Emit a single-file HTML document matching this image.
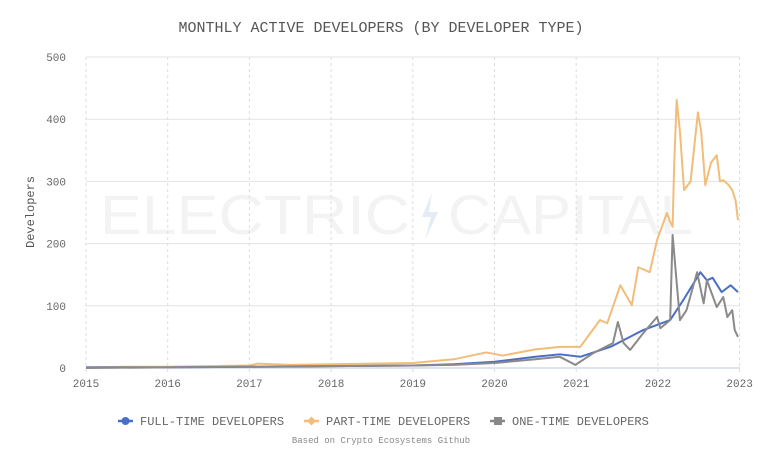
<!DOCTYPE html>
<html><head><meta charset="utf-8"><style>
body{margin:0;background:#fff;width:762px;height:455px;overflow:hidden;font-family:"Liberation Mono","DejaVu Sans Mono",monospace}
</style></head><body>
<svg id="chart" width="762" height="455" xmlns="http://www.w3.org/2000/svg">
<text x="381" y="32" text-anchor="middle" font-size="15" fill="#555" font-family="Liberation Mono, monospace">MONTHLY ACTIVE DEVELOPERS (BY DEVELOPER TYPE)</text>
<g fill="#f3f3f3" font-family="Liberation Sans, sans-serif" font-size="56">
<text x="100" y="234" textLength="310" lengthAdjust="spacingAndGlyphs">ELECTRIC</text>
<path d="M432 193L422 217L431 217L425 240L438 212L429 212Z" fill="#e3ecf6"/>
<text x="448" y="234" textLength="245" lengthAdjust="spacingAndGlyphs">CAPITAL</text>
</g>
<g id="grid"></g><g id="series"></g>
<text transform="translate(34,212) rotate(-90)" text-anchor="middle" font-size="12" fill="#555">Developers</text>
<g font-size="12" fill="#666">
<g><line x1="118" y1="421" x2="133" y2="421" stroke="#4a6fc7" stroke-width="2.5"/><circle cx="125.5" cy="421" r="4" fill="#4a6fc7"/><text x="140" y="425">FULL-TIME DEVELOPERS</text></g>
<g><line x1="304" y1="421" x2="319" y2="421" stroke="#f2bd79" stroke-width="2.5"/><path d="M311.5 416.5L316 421L311.5 425.5L307 421Z" fill="#f2bd79"/><text x="326" y="425">PART-TIME DEVELOPERS</text></g>
<g><line x1="490" y1="421" x2="505" y2="421" stroke="#888" stroke-width="2.5"/><rect x="494" y="417" width="8" height="8" fill="#888"/><text x="512" y="425">ONE-TIME DEVELOPERS</text></g>
</g>
<text x="381" y="443" text-anchor="middle" font-size="9" fill="#888">Based on Crypto Ecosystems Github</text>
</svg>
<script>
const yearTicks=[2015,2016,2017,2018,2019,2020,2021,2022,2023];
const yTicks=[0,100,200,300,400,500];
const partX=[2015,2015.5,2016,2016.5,2017,2017.1,2017.5,2018,2018.5,2019,2019.5,2019.9,2020.1,2020.5,2020.8,2021.05,2021.29,2021.38,2021.54,2021.68,2021.76,2021.9,2021.99,2022.11,2022.15,2022.18,2022.2,2022.23,2022.27,2022.32,2022.4,2022.49,2022.53,2022.58,2022.65,2022.72,2022.76,2022.8,2022.86,2022.91,2022.95,2022.98];
const partY=[1,2,2,3,4,7,5,6,7,8,14,25,20,30,34,34,77,72,133,101,162,154,206,249,235,227,330,431,380,286,300,411,380,294,330,342,300,302,295,286,270,238];
const fullX=[2015,2016,2017,2018,2019,2019.5,2020,2020.5,2020.8,2021.05,2021.42,2021.82,2022.15,2022.31,2022.52,2022.6,2022.67,2022.78,2022.89,2022.98];
const fullY=[1,1,2,3,4,6,10,18,22,18,34,61,77,109,154,141,145,122,133,122];
const oneX=[2015,2016,2017,2018,2019,2019.5,2020,2020.5,2020.8,2020.99,2021.21,2021.45,2021.51,2021.58,2021.66,2021.82,2021.99,2022.03,2022.15,2022.18,2022.23,2022.27,2022.35,2022.48,2022.56,2022.6,2022.72,2022.8,2022.85,2022.91,2022.94,2022.98];
const oneY=[0,1,2,3,4,5,8,14,18,5,24,40,74,40,29,56,82,64,77,214,137,77,93,154,104,141,98,114,82,93,61,50];
const NS="http://www.w3.org/2000/svg";
const X=v=>86+(v-2015)*81.7, Y=v=>368-v*0.622;
const g=document.getElementById('grid'), s=document.getElementById('series');
yTicks.forEach(t=>{
 const l=document.createElementNS(NS,'line');
 
 
 l.setAttribute('x1',86);l.setAttribute('x2',740);l.setAttribute('y1',Y(t));l.setAttribute('y2',Y(t));
 l.setAttribute('stroke',t===0?'#b8c8e4':'#e3e3e3');g.appendChild(l);
 const tx=document.createElementNS(NS,'text');
 
 
 tx.setAttribute('x',66);tx.setAttribute('y',Y(t)+4);tx.setAttribute('text-anchor','end');tx.setAttribute('font-size','11');tx.setAttribute('fill','#666');
 tx.textContent=t;g.appendChild(tx);
});
yearTicks.forEach(t=>{
 const l=document.createElementNS(NS,'line');
 
 
 l.setAttribute('x1',X(t));l.setAttribute('x2',X(t));l.setAttribute('y1',57);l.setAttribute('y2',372);
 l.setAttribute('stroke','#ddd');l.setAttribute('stroke-dasharray','3,3');g.appendChild(l);
 const tx=document.createElementNS(NS,'text');
 
 
 tx.setAttribute('x',X(t));tx.setAttribute('y',387);tx.setAttribute('text-anchor','middle');tx.setAttribute('font-size','11');tx.setAttribute('fill','#666');
 tx.textContent=t;g.appendChild(tx);
});
function line(xs,ys,c,name){
 const p=document.createElementNS(NS,'polyline');
 
 
 p.setAttribute('points',xs.map((x,i)=>X(x)+','+Y(ys[i])).join(' '));
 p.setAttribute('fill','none');p.setAttribute('stroke',c);p.setAttribute('stroke-width','2');p.setAttribute('stroke-linejoin','round');
 s.appendChild(p);
}
line(partX,partY,'#f2bd79','part-time-line');
line(fullX,fullY,'#4a6fc7','full-time-line');
line(oneX,oneY,'#8a8a8a','one-time-line');
</script>
</body></html>
